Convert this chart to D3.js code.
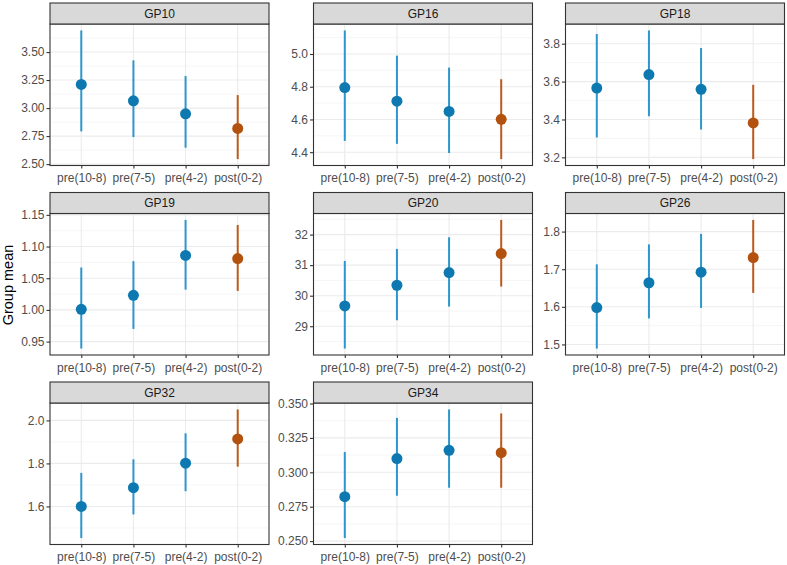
<!DOCTYPE html>
<html>
<head>
<meta charset="utf-8">
<script src="https://cdn.jsdelivr.net/npm/d3@7"></script>
<style>
  body { margin: 0; background: #fff; }
  svg text { font-family: "Liberation Sans", Arial, sans-serif; }
</style>
</head>
<body>
<svg id="chart" width="787" height="565"></svg>
<script>
// ---- data ----
const categories = ["pre(10-8)", "pre(7-5)", "pre(4-2)", "post(0-2)"];
const phase = ["pre", "pre", "pre", "post"];
const panelNames = ["GP10", "GP16", "GP18", "GP19", "GP20", "GP26", "GP32", "GP34"];
const meanValues = [
  [3.211, 3.065, 2.949, 2.818],
  [4.795, 4.712, 4.649, 4.601],
  [3.566, 3.637, 3.559, 3.382],
  [1.001, 1.023, 1.086, 1.081],
  [29.666, 30.342, 30.756, 31.378],
  [1.598, 1.664, 1.692, 1.731],
  [1.600, 1.687, 1.801, 1.914],
  [0.2823, 0.3100, 0.3160, 0.3143]
];
const lowerValues = [
  [2.792, 2.741, 2.646, 2.545],
  [4.469, 4.451, 4.395, 4.358],
  [3.305, 3.417, 3.347, 3.191],
  [0.939, 0.970, 1.032, 1.030],
  [28.269, 29.196, 29.644, 30.298],
  [1.489, 1.569, 1.597, 1.637],
  [1.453, 1.563, 1.671, 1.785],
  [0.2522, 0.2830, 0.2888, 0.2888]
];
const upperValues = [
  [3.693, 3.426, 3.286, 3.116],
  [5.144, 4.990, 4.917, 4.846],
  [3.851, 3.870, 3.777, 3.583],
  [1.067, 1.077, 1.142, 1.134],
  [31.138, 31.531, 31.913, 32.480],
  [1.713, 1.766, 1.794, 1.831],
  [1.756, 1.819, 1.940, 2.051],
  [0.3148, 0.3396, 0.3457, 0.3428]
];
const yTickValues = [
  [2.50, 2.75, 3.00, 3.25, 3.50],
  [4.4, 4.6, 4.8, 5.0],
  [3.2, 3.4, 3.6, 3.8],
  [0.95, 1.00, 1.05, 1.10, 1.15],
  [29, 30, 31, 32],
  [1.5, 1.6, 1.7, 1.8],
  [1.6, 1.8, 2.0],
  [0.250, 0.275, 0.300, 0.325, 0.350]
];
const yTickFormats = [".2f", ".1f", ".1f", ".2f", ".0f", ".1f", ".1f", ".3f"];
const yTitle = "Group mean";

// ---- styling / layout ----
const colLeft = [50, 313.5, 565.5];
const panelW = 219;
const rowTop = [3, 192.5, 382];
const stripH = 21;
const panelH = 141.5;
const colors = { pre: "#0e78b0", post: "#b3510f" };
const lineColors = { pre: "#2d96cc", post: "#bb5a1c" };
const tickFont = "12px";

const svg = d3.select("#chart");

panelNames.forEach((name, i) => {
  const col = i % 3, row = Math.floor(i / 3);
  const x0 = colLeft[col];
  const sTop = rowTop[row];
  const pTop = sTop + stripH;
  const g = svg.append("g").attr("transform", `translate(${x0},${pTop})`);

  const x = d3.scalePoint().domain(categories).range([0, panelW]).padding(0.6);
  const lo = d3.min(lowerValues[i]), hi = d3.max(upperValues[i]);
  const pad = (hi - lo) * 0.05;
  const y = d3.scaleLinear().domain([lo - pad, hi + pad]).range([panelH, 0]);

  const ticks = yTickValues[i];
  const step = ticks[1] - ticks[0];
  const minors = [];
  for (let k = -1; k < ticks.length; k++) {
    const m = ticks[0] + step * (k + 0.5);
    if (m >= y.domain()[0] && m <= y.domain()[1]) minors.push(m);
  }

  g.append("rect").attr("width", panelW).attr("height", panelH).attr("fill", "#fff");
  g.selectAll(".minor").data(minors).join("line")
    .attr("x1", 0).attr("x2", panelW)
    .attr("y1", d => y(d)).attr("y2", d => y(d))
    .attr("stroke", "#f2f2f2").attr("stroke-width", 0.7);
  g.selectAll(".majorY").data(ticks).join("line")
    .attr("x1", 0).attr("x2", panelW)
    .attr("y1", d => y(d)).attr("y2", d => y(d))
    .attr("stroke", "#ebebeb").attr("stroke-width", 1.1);
  g.selectAll(".majorX").data(categories).join("line")
    .attr("x1", d => x(d)).attr("x2", d => x(d))
    .attr("y1", 0).attr("y2", panelH)
    .attr("stroke", "#ebebeb").attr("stroke-width", 1.1);

  const data = categories.map((c, j) => ({
    c, ph: phase[j], m: meanValues[i][j], lo: lowerValues[i][j], hi: upperValues[i][j]
  }));

  g.selectAll(".err").data(data).join("line")
    .attr("x1", d => x(d.c)).attr("x2", d => x(d.c))
    .attr("y1", d => y(d.lo)).attr("y2", d => y(d.hi))
    .attr("stroke", d => lineColors[d.ph]).attr("stroke-width", 2);
  g.selectAll(".pt").data(data).join("circle")
    .attr("cx", d => x(d.c)).attr("cy", d => y(d.m)).attr("r", 5.5)
    .attr("fill", d => colors[d.ph]);

  g.append("rect").attr("width", panelW).attr("height", panelH)
    .attr("fill", "none").attr("stroke", "#333").attr("stroke-width", 1.1);

  const yAxis = d3.axisLeft(y).tickValues(ticks).tickFormat(d3.format(yTickFormats[i]))
    .tickSize(3.5).tickPadding(2);
  const ya = g.append("g").call(yAxis);
  ya.select(".domain").remove();
  ya.selectAll(".tick line").attr("stroke", "#333").attr("stroke-width", 1.1);
  ya.selectAll(".tick text").attr("fill", "#4d4d4d").attr("font-size", tickFont);

  const xAxis = d3.axisBottom(x).tickSize(3).tickPadding(5);
  const xa = g.append("g").attr("transform", `translate(0,${panelH})`).call(xAxis);
  xa.select(".domain").remove();
  xa.selectAll(".tick line").attr("stroke", "#333").attr("stroke-width", 1.1);
  xa.selectAll(".tick text").attr("fill", "#4d4d4d").attr("font-size", tickFont);

  const s = svg.append("g").attr("transform", `translate(${x0},${sTop})`);
  s.append("rect").attr("width", panelW).attr("height", stripH)
    .attr("fill", "#d9d9d9").attr("stroke", "#333").attr("stroke-width", 1.1);
  s.append("text").attr("x", panelW / 2).attr("y", stripH / 2).attr("dy", "0.35em")
    .attr("text-anchor", "middle").attr("font-size", "12px").attr("fill", "#1a1a1a")
    .text(name);
});

svg.append("text")
  .attr("transform", `translate(13,285) rotate(-90)`)
  .attr("text-anchor", "middle").attr("font-size", "14.5px").attr("fill", "#000")
  .text(yTitle);
</script>
</body>
</html>
